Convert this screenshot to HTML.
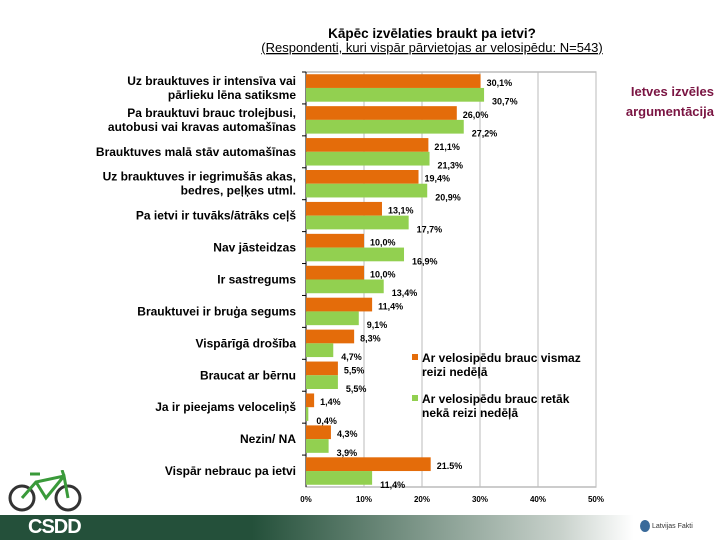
<!DOCTYPE html>
<html><head><meta charset="utf-8">
<style>
body{margin:0;width:720px;height:540px;overflow:hidden;background:#fff;font-family:"Liberation Sans",sans-serif;position:relative}
#side{position:absolute;left:604px;top:82px;width:110px;text-align:right;color:#7a1442;font-size:13px;line-height:20px;font-weight:bold}
#footer{position:absolute;left:0;top:515px;width:720px;height:25px;background:linear-gradient(90deg,#24503a 0%,#24503a 35%,#c9d2cc 78%,#fff 88%,#fff 100%)}
#csdd{position:absolute;left:28px;top:515px;color:#fff;font-weight:bold;font-size:20px;letter-spacing:-1px;line-height:25px}
#lf{position:absolute;left:640px;top:520px;font-size:7px;color:#333;line-height:14px}
</style></head><body>
<svg id="chart" width="720" height="515" style="position:absolute;left:0;top:0"></svg>
<div id="side">Ietves izvēles argumentācija</div>
<div id="footer"></div>
<div id="csdd">CSDD</div>
<div id="lf"><span style="display:inline-block;width:10px;height:12px;background:#3a6a9a;border-radius:50%;vertical-align:middle"></span> Latvijas Fakti</div>
<svg width="76" height="44" style="position:absolute;left:8px;top:470px">
<circle cx="14" cy="28" r="12" fill="none" stroke="#333" stroke-width="3"/><circle cx="60" cy="28" r="12" fill="none" stroke="#333" stroke-width="3"/>
<path d="M14 28 L28 12 L56 6 L60 28 M28 12 L38 28 L56 6 M22 4 L32 4 M56 6 L54 0" stroke="#3a9a3a" stroke-width="3" fill="none"/>
</svg>
<script>
const categories=[["Uz brauktuves ir intensīva vai","pārlieku lēna satiksme"],["Pa brauktuvi brauc trolejbusi,","autobusi vai kravas automašīnas"],["Brauktuves malā stāv automašīnas"],["Uz brauktuves ir iegrimušās akas,","bedres, peļķes utml."],["Pa ietvi ir tuvāks/ātrāks ceļš"],["Nav jāsteidzas"],["Ir sastregums"],["Brauktuvei ir bruģa segums"],["Vispārīgā drošība"],["Braucat ar bērnu"],["Ja ir pieejams veloceliņš"],["Nezin/ NA"],["Vispār nebrauc pa ietvi"]];
const weekly=[30.1,26.0,21.1,19.4,13.1,10.0,10.0,11.4,8.3,5.5,1.4,4.3,21.5];
const weeklyLabels=["30,1%","26,0%","21,1%","19,4%","13,1%","10,0%","10,0%","11,4%","8,3%","5,5%","1,4%","4,3%","21.5%"];
const rare=[30.7,27.2,21.3,20.9,17.7,16.9,13.4,9.1,4.7,5.5,0.4,3.9,11.4];
const rareLabels=["30,7%","27,2%","21,3%","20,9%","17,7%","16,9%","13,4%","9,1%","4,7%","5,5%","0,4%","3,9%","11,4%"];
const ticks=[0,10,20,30,40,50];
const svg=document.getElementById('chart');const NS='http://www.w3.org/2000/svg';
function el(t,a,txt){const e=document.createElementNS(NS,t);for(const k in a)e.setAttribute(k,a[k]);if(txt!=null)e.textContent=txt;svg.appendChild(e);return e;}
const X0=306,X1=596,T=72,B=487;const band=(B-T)/categories.length;
const x=v=>X0+(v/50)*(X1-X0);
let t=el('text',{x:432,y:38,'text-anchor':'middle','font-size':13.5,'font-weight':'bold'},'Kāpēc izvēlaties braukt pa ietvi?');

t=el('text',{x:432,y:52,'text-anchor':'middle','font-size':13,'text-decoration':'underline'},'(Respondenti, kuri vispār pārvietojas ar velosipēdu: N=543)');

let r=el('rect',{x:X0,y:T,width:X1-X0,height:B-T,fill:'none',stroke:'#999'});

ticks.forEach(v=>{
 let g=el('line',{x1:x(v),x2:x(v),y1:T,y2:B,stroke:'#bbb'});
 
 let l=el('text',{x:x(v),y:502,'text-anchor':'middle','font-size':8,'font-weight':'bold'},v+'%');
 
});
let ax=el('line',{x1:X0,x2:X0,y1:T,y2:B,stroke:'#000'});
categories.forEach((c,i)=>{
 const y0=T+i*band;
 let tk=el('line',{x1:X0-4,x2:X0,y1:y0,y2:y0,stroke:'#000'});
 const bh=band*0.43;const oy=y0+band*0.07;const gy=oy+bh;
 let b1=el('rect',{x:X0,y:oy,width:x(weekly[i])-X0,height:bh,fill:'#e46c0a'});
 
 let b2=el('rect',{x:X0,y:gy,width:x(rare[i])-X0,height:bh,fill:'#92d050'});
 
 let l1=el('text',{x:x(weekly[i])+6,y:oy+bh-2,'font-size':9,'font-weight':'bold'},weeklyLabels[i]);
 
 let l2=el('text',{x:x(rare[i])+8,y:gy+bh+3,'font-size':9,'font-weight':'bold'},rareLabels[i]);
 
 const cy=y0+band/2;
 c.forEach((line,j)=>{
  let ct=el('text',{x:X0-10,y:cy+4+(j-(c.length-1)/2)*14,'text-anchor':'end','font-size':12,'font-weight':'bold'},line);
  
 });
});
const leg=[['#e46c0a','Ar velosipēdu brauc vismaz','reizi nedēļā',354],['#92d050','Ar velosipēdu brauc retāk','nekā  reizi nedēļā',395]];
leg.forEach(([c,a,b,y])=>{
 let s=el('rect',{x:412,y:y,width:6,height:6,fill:c});
 let t1=el('text',{x:422,y:y+8,'font-size':12,'font-weight':'bold'},a);
 let t2=el('text',{x:422,y:y+22,'font-size':12,'font-weight':'bold'},b);
});
</script>
</body></html>
